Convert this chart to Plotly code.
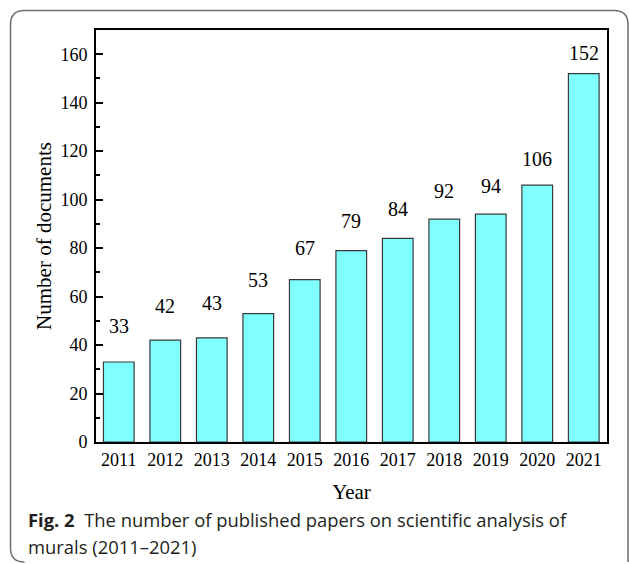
import plotly.graph_objects as go

years = ["2011", "2012", "2013", "2014", "2015", "2016",
         "2017", "2018", "2019", "2020", "2021"]
documents = [33, 42, 43, 53, 67, 79, 84, 92, 94, 106, 152]
y_ticks = [0, 20, 40, 60, 80, 100, 120, 140, 160]

W, H = 629, 564
L, R, T, B = 96, 22, 30, 122
PW, PH = W - L - R, H - T - B


def px(x):
    return (x - L) / PW


def py(y):
    return (H - B - y) / PH


serif = "Liberation Serif, Times New Roman, serif"

fig = go.Figure()
fig.add_trace(go.Bar(
    x=years, y=documents,
    marker=dict(color="#80ffff", line=dict(color="#3a3a3a", width=1.2)),
    width=0.66, showlegend=False))

# value labels above bars (reference spacing shrinks a little on taller bars)
for i, v in enumerate(documents):
    fig.add_annotation(x=i, y=v, text=str(v), showarrow=False,
                       yanchor="bottom", yshift=27 - 0.13 * v,
                       font=dict(family=serif, size=20, color="black"))

# outer rounded frame of the figure panel
x0, y0, x1, y1, r = 10.5, 10.5, 628, 562, 14
path = (f"M {px(x0)},{py(y0 + r)} L {px(x0)},{py(y1 - r)} "
        f"Q {px(x0)},{py(y1)} {px(x0 + r)},{py(y1)} "
        f"M {px(x0)},{py(y0 + r)} Q {px(x0)},{py(y0)} {px(x0 + r)},{py(y0)} "
        f"L {px(x1 - r)},{py(y0)} Q {px(x1)},{py(y0)} {px(x1)},{py(y0 + r)} "
        f"L {px(x1)},{py(y1)}")
fig.add_shape(type="path", xref="paper", yref="paper", path=path,
              line=dict(color="#6e6e6e", width=1.5))

cap_font = dict(family="Open Sans, Noto Sans, sans-serif", size=18.4, color="#231f20")
fig.add_annotation(xref="paper", yref="paper", x=px(26), y=py(519),
                   xanchor="left", yanchor="middle", showarrow=False,
                   text="<b>Fig. 2</b>  The number of published papers on scientific analysis of",
                   font=cap_font)
fig.add_annotation(xref="paper", yref="paper", x=px(26), y=py(546),
                   xanchor="left", yanchor="middle", showarrow=False,
                   text="murals (2011–2021)", font=cap_font)

fig.update_xaxes(
    type="category", range=[-0.49, 10.5], showline=True, linecolor="black",
    linewidth=2, mirror=True, ticks="",
    tickfont=dict(family=serif, size=18, color="black"), ticklabelstandoff=0,
    title=dict(text="Year", font=dict(family=serif, size=21, color="black"),
               standoff=16))
fig.update_yaxes(
    range=[0, 170], tickvals=y_ticks, showline=True, linecolor="black",
    linewidth=2, mirror=True, ticks="inside", ticklen=7, tickwidth=1.5,
    tickcolor="black", showgrid=False, zeroline=False,
    minor=dict(dtick=10, ticks="inside", ticklen=4, tickwidth=1.5,
               tickcolor="black", showgrid=False),
    tickfont=dict(family=serif, size=18, color="black"), ticklabelstandoff=3,
    title=dict(text="Number of documents",
               font=dict(family=serif, size=21, color="black"), standoff=3))

fig.update_layout(
    width=W, height=H, margin=dict(l=L, r=R, t=T, b=B),
    paper_bgcolor="white", plot_bgcolor="white", bargap=0.33)

fig.write_html("out.html", config={"displayModeBar": False},
               post_script="document.body.style.margin='0';")
